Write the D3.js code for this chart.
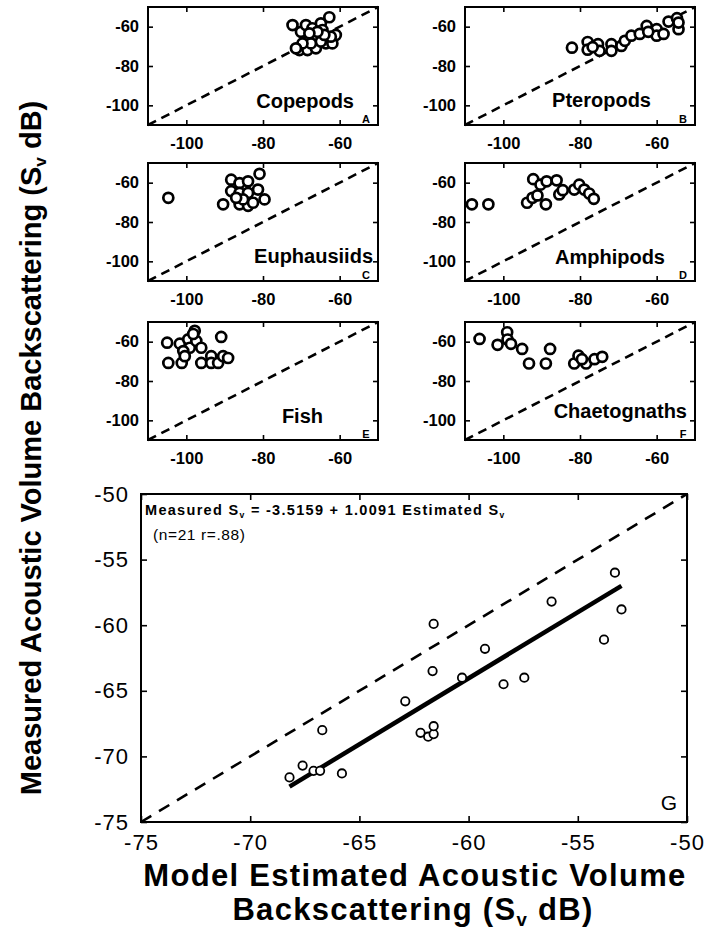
<!DOCTYPE html>
<html>
<head>
<meta charset="utf-8">
<script src="https://cdn.jsdelivr.net/npm/d3@7"></script>
<style>
  body { margin: 0; background: #fff; }
  svg { display: block; }
  text { font-family: "Liberation Sans", Arial, Helvetica, sans-serif; fill: #000; }
</style>
</head>
<body>
<div id="main"></div>
<script>
// ---- data ----
var smallTicks = [-100, -80, -60]
var bigTicks = [-75, -70, -65, -60, -55, -50]

// [model estimated Sv, measured Sv]
var copepods = [[-72.3,-59.2],[-70.1,-62.6],[-68.8,-59.2],[-67.1,-60.8],[-64.9,-58.3],[-62.7,-55.2],
  [-64.5,-61.7],[-66.6,-64.2],[-68.4,-67.6],[-70.5,-71.9],[-68.4,-71.9],[-66.2,-71.0],[-63.6,-68.5],
  [-61.9,-68.5],[-61.0,-64.2],[-62.3,-65.1],[-64.9,-67.6],[-67.5,-68.5],[-69.7,-68.5],[-64.0,-64.2],
  [-65.8,-62.6],[-67.9,-63.4],[-71.4,-71.0]]
var pteropods = [[-82.1,-70.7],[-78.0,-67.8],[-78.0,-71.7],[-75.3,-68.9],[-74.9,-72.3],[-71.8,-68.9],
  [-71.8,-72.3],[-69.2,-69.8],[-68.3,-67.2],[-66.6,-64.6],[-64.4,-63.7],[-62.6,-59.6],[-60.0,-61.3],
  [-60.0,-64.6],[-58.2,-63.7],[-56.9,-57.4],[-54.7,-55.7],[-54.3,-61.3],[-54.3,-57.9],[-76.7,-70.4],
  [-62.2,-62.6]]
var euphausiids = [[-104.7,-67.7],[-90.4,-71.0],[-88.3,-58.5],[-86.1,-60.2],[-83.9,-59.3],[-80.9,-55.5],
  [-88.3,-64.3],[-86.1,-65.2],[-83.9,-65.2],[-81.3,-63.5],[-79.6,-68.5],[-86.1,-71.0],[-83.9,-71.8],
  [-82.6,-70.2],[-85.2,-68.5],[-87.0,-67.7]]
var amphipods = [[-108.2,-71.0],[-103.9,-71.0],[-92.2,-58.2],[-90.3,-61.0],[-88.7,-59.3],[-86.1,-58.8],
  [-93.8,-70.2],[-92.4,-67.7],[-91.1,-66.5],[-88.9,-71.0],[-85.4,-66.0],[-84.5,-63.8],[-81.5,-63.5],
  [-80.2,-61.0],[-78.9,-63.5],[-77.6,-65.5],[-76.4,-68.2]]
var fish = [[-105.0,-60.5],[-104.7,-70.8],[-101.2,-70.8],[-101.7,-61.0],[-99.5,-58.8],[-97.8,-54.5],
  [-99.1,-63.1],[-100.8,-64.8],[-100.4,-67.4],[-97.4,-59.6],[-96.1,-63.1],[-96.1,-70.8],[-93.5,-67.4],
  [-93.5,-70.8],[-91.7,-70.8],[-90.9,-57.6],[-90.4,-67.4],[-89.1,-68.3],[-98.2,-56.1]]
var chaetognaths = [[-106.2,-58.6],[-101.5,-61.6],[-99.0,-55.2],[-98.9,-58.9],[-98.0,-61.1],[-95.1,-63.7],
  [-93.3,-71.1],[-88.9,-71.1],[-87.8,-63.7],[-81.5,-71.1],[-80.4,-67.1],[-78.4,-71.1],[-76.2,-68.9],
  [-74.2,-67.7],[-79.5,-68.9]]

var panelNames = ["Copepods", "Pteropods", "Euphausiids", "Amphipods", "Fish", "Chaetognaths"]
var panelLetters = ["A", "B", "C", "D", "E", "F"]
var panelData = [copepods, pteropods, euphausiids, amphipods, fish, chaetognaths]

// panel G: 21 stations
var estimatedG = [-68.2,-67.6,-67.1,-66.8,-66.7,-65.8,-62.9,-62.2,-61.85,-61.6,-61.6,-61.65,-61.6,
  -60.3,-59.25,-58.4,-57.45,-56.2,-53.8,-53.3,-53.0]
var measuredG = [-71.6,-70.7,-71.1,-71.1,-68.0,-71.3,-65.8,-68.2,-68.5,-68.3,-67.7,-63.5,-59.9,
  -64.0,-61.8,-64.5,-64.0,-58.2,-61.1,-56.0,-58.8]
var fitX = [-68.2, -53.0]
var fitY = [-72.3, -57.0]

// ---- layout ----
var W = 707, H = 929
var svg = d3.select("#main").append("svg").attr("width", W).attr("height", H)

var cols = [148, 465], rows = [7, 163, 322]
var pw = 230, ph = 118
// name label: right edge and baseline relative to panel
var nameRight = [206, 186, 225, 200, 175, 222]
var nameBase = [101, 100, 100, 101, 101, 96]
var plain = function(d){ return String(d) }   // keep ascii hyphen like the original

function vLabel(sel, pre, post, size) {
  sel.append("tspan").text(pre)
  sel.append("tspan").attr("font-size", size * 0.6 + "px").attr("dy", size * 0.18).text("v")
  sel.append("tspan").attr("dy", -size * 0.18).text(post)
}

panelData.forEach(function(data, i){
  var ox = cols[i % 2], oy = rows[Math.floor(i / 2)]
  var x = d3.scaleLinear().domain([-110, -50]).range([0, pw])
  var y = d3.scaleLinear().domain([-110, -50]).range([ph, 0])
  var g = svg.append("g").attr("transform", "translate(" + ox + "," + oy + ")")

  // inward ticks on all four sides
  g.append("g").attr("transform", "translate(0," + ph + ")")
    .call(d3.axisBottom(x).tickValues(smallTicks).tickFormat(plain).tickSizeInner(-5).tickSizeOuter(0).tickPadding(12))
  g.append("g")
    .call(d3.axisTop(x).tickValues(smallTicks).tickSizeInner(-5).tickSizeOuter(0).tickFormat(""))
  g.append("g")
    .call(d3.axisLeft(y).tickValues(smallTicks).tickFormat(plain).tickSizeInner(-5).tickSizeOuter(0).tickPadding(9))
  g.append("g").attr("transform", "translate(" + pw + ",0)")
    .call(d3.axisRight(y).tickValues(smallTicks).tickSizeInner(-5).tickSizeOuter(0).tickFormat(""))
  g.selectAll(".domain").remove()
  g.selectAll(".tick line").attr("stroke", "#000").attr("stroke-width", 1.6)
  g.selectAll(".tick text").attr("font-size", "16.5px").attr("font-weight", "bold")
    .attr("font-family", "'Liberation Sans', Arial, sans-serif")

  g.append("rect").attr("width", pw).attr("height", ph)
    .attr("fill", "none").attr("stroke", "#000").attr("stroke-width", 2)

  g.append("line")
    .attr("x1", x(-110)).attr("y1", y(-110)).attr("x2", x(-50)).attr("y2", y(-50))
    .attr("stroke", "#000").attr("stroke-width", 2.6).attr("stroke-dasharray", "9,6")

  g.selectAll(".dot").data(data).enter().append("circle")
    .attr("class", "dot")
    .attr("cx", function(d){ return x(d[0]) })
    .attr("cy", function(d){ return y(d[1]) })
    .attr("r", 5)
    .attr("fill", "#fff").attr("stroke", "#000").attr("stroke-width", 2.7)

  g.append("text").attr("x", nameRight[i]).attr("y", nameBase[i])
    .attr("text-anchor", "end").attr("font-size", "20px").attr("font-weight", "bold")
    .text(panelNames[i])
  g.append("text").attr("x", 218).attr("y", 116)
    .attr("text-anchor", "middle").attr("font-size", "11px").attr("font-weight", "bold")
    .text(panelLetters[i])
})

// ---- panel G ----
var gx0 = 141, gy0 = 494, gw = 546, gh = 328
var X = d3.scaleLinear().domain([-75, -50]).range([0, gw])
var Y = d3.scaleLinear().domain([-75, -50]).range([gh, 0])
var G = svg.append("g").attr("transform", "translate(" + gx0 + "," + gy0 + ")")

G.append("g").attr("transform", "translate(0," + gh + ")")
  .call(d3.axisBottom(X).tickValues(bigTicks).tickFormat(plain).tickSizeInner(-6).tickSizeOuter(0).tickPadding(12))
G.append("g")
  .call(d3.axisTop(X).tickValues(bigTicks).tickSizeInner(-6).tickSizeOuter(0).tickFormat(""))
G.append("g")
  .call(d3.axisLeft(Y).tickValues(bigTicks).tickFormat(plain).tickSizeInner(-6).tickSizeOuter(0).tickPadding(12))
G.append("g").attr("transform", "translate(" + gw + ",0)")
  .call(d3.axisRight(Y).tickValues(bigTicks).tickSizeInner(-6).tickSizeOuter(0).tickFormat(""))
G.selectAll(".domain").remove()
G.selectAll(".tick line").attr("stroke", "#000").attr("stroke-width", 1.6)
G.selectAll(".tick text").attr("font-size", "22px").attr("letter-spacing", "1px")
  .attr("font-family", "'Liberation Sans', Arial, sans-serif")

G.append("rect").attr("width", gw).attr("height", gh)
  .attr("fill", "none").attr("stroke", "#000").attr("stroke-width", 2)

G.append("line")
  .attr("x1", X(-75)).attr("y1", Y(-75)).attr("x2", X(-50)).attr("y2", Y(-50))
  .attr("stroke", "#000").attr("stroke-width", 2.6).attr("stroke-dasharray", "12,9")

G.append("line")
  .attr("x1", X(fitX[0])).attr("y1", Y(fitY[0])).attr("x2", X(fitX[1])).attr("y2", Y(fitY[1]))
  .attr("stroke", "#000").attr("stroke-width", 4.5)

G.selectAll(".gdot").data(estimatedG).enter().append("circle")
  .attr("class", "gdot")
  .attr("cx", function(d){ return X(d) })
  .attr("cy", function(d, i){ return Y(measuredG[i]) })
  .attr("r", 4.2)
  .attr("fill", "#fff").attr("stroke", "#000").attr("stroke-width", 1.8)

var eq = G.append("text").attr("x", 4).attr("y", 21)
  .attr("font-size", "14.5px").attr("font-weight", "bold").attr("letter-spacing", "1.3px")
vLabel(eq, "Measured S", " = -3.5159 + 1.0091 Estimated S", 14.5)
eq.append("tspan").attr("font-size", "8.5px").attr("dy", 2.6).text("v")
G.append("text").attr("x", 12).attr("y", 46).attr("font-size", "15.5px")
  .attr("letter-spacing", "0.6px").text("(n=21 r=.88)")
G.append("text").attr("x", gw - 10).attr("y", gh - 12).attr("text-anchor", "end")
  .attr("font-size", "21px").text("G")

// ---- axis titles ----
svg.append("text").attr("x", 415).attr("y", 886).attr("text-anchor", "middle")
  .attr("font-size", "31px").attr("font-weight", "bold").attr("letter-spacing", "1.3px")
  .text("Model Estimated Acoustic Volume")
var xt2 = svg.append("text").attr("x", 413).attr("y", 920).attr("text-anchor", "middle")
  .attr("font-size", "31px").attr("font-weight", "bold").attr("letter-spacing", "1.3px")
vLabel(xt2, "Backscattering (S", " dB)", 31)

var yt = svg.append("text").attr("transform", "translate(41,448) rotate(-90)")
  .attr("text-anchor", "middle").attr("font-size", "29px").attr("font-weight", "bold")
vLabel(yt, "Measured Acoustic Volume Backscattering (S", " dB)", 29)
</script>
</body>
</html>
